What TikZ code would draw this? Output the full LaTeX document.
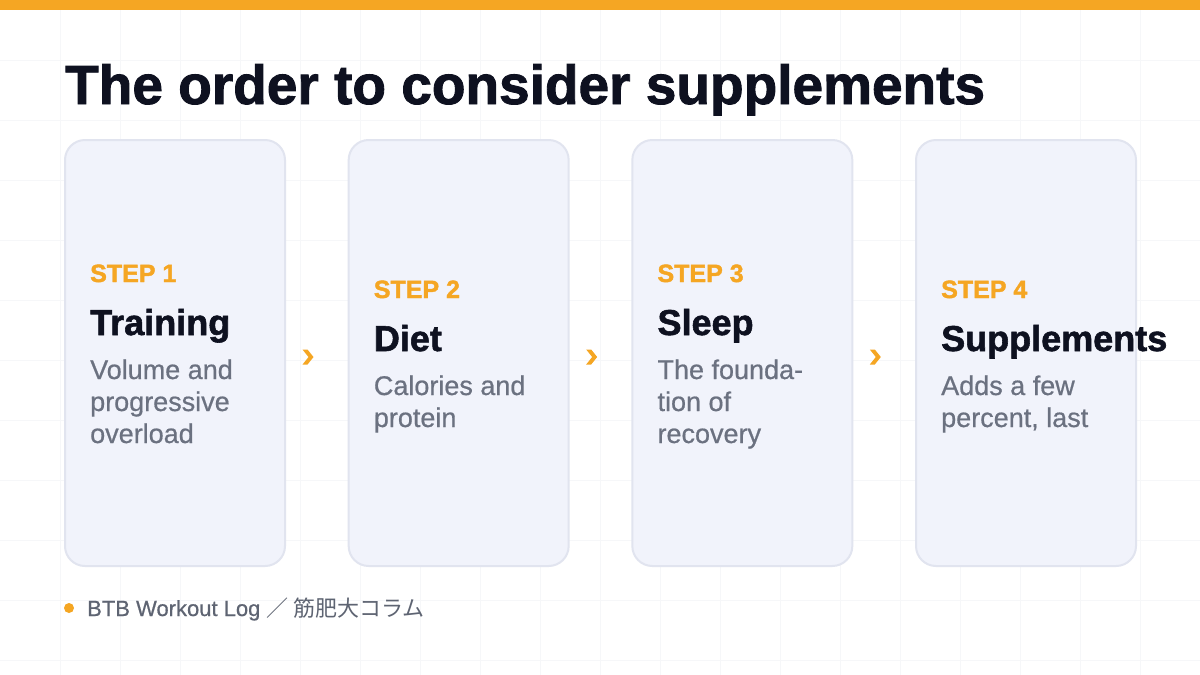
\documentclass[tikz,border=0pt]{standalone}
\usepackage{fontspec}
\setmainfont{Liberation Sans}
\newfontfamily\heavyfont{Liberation Sans}[BoldFeatures={FakeBold=1.6}]
\newfontfamily\mediumfont{Liberation Sans}[FakeBold=0.6]
\newfontfamily\jpfont{Noto Sans CJK JP}
\usetikzlibrary{calc}
\definecolor{barorange}{HTML}{F5A623}
\definecolor{titleink}{HTML}{0E1120}
\definecolor{bodygray}{HTML}{6B7180}
\definecolor{cardfill}{HTML}{F1F3FB}
\definecolor{cardline}{HTML}{E1E4EF}
\definecolor{gridline}{HTML}{F6F7F9}
\definecolor{footgray}{HTML}{5E6472}
\tikzset{
	card/.style={draw=cardline, line width=2pt, fill=cardfill, rounded corners=20pt, minimum width=220pt, minimum height=426pt, inner sep=0pt},
	steplabel/.style={anchor=base west, inner sep=0pt, text=barorange, font=\fontsize{25}{30}\selectfont\heavyfont\bfseries},
	stephead/.style={anchor=base west, inner sep=0pt, text=titleink, font=\fontsize{36}{40}\selectfont\heavyfont\bfseries},
	stepbody/.style={anchor=base west, inner sep=0pt, text=bodygray, align=left, font=\fontsize{27}{32}\selectfont\mediumfont},
	chevron/.style={fill=barorange},
}
\begin{document}
\begin{tikzpicture}[x=1pt, y=-1pt]
	\useasboundingbox (0,0) rectangle (1200,675);
	\fill[white] (0,0) rectangle (1200,675);
	\foreach \gx in {60,120,...,1140} \draw[gridline, line width=1pt] (\gx,0) -- (\gx,675);
	\foreach \gy in {60,120,...,660} \draw[gridline, line width=1pt] (0,\gy) -- (1200,\gy);
	\fill[barorange] (0,0) rectangle (1200,10);

	\node (title) [anchor=base west, inner sep=0pt, text=titleink, font=\fontsize{55}{60}\selectfont\heavyfont\bfseries] at (65,104) {The order to consider supplements};

	\node (card1) [card] at (175,353) {};
	\node (card2) [card] at (458.67,353) {};
	\node (card3) [card] at (742.33,353) {};
	\node (card4) [card] at (1026,353) {};

	\node (step1) [steplabel] at (90,282) {STEP 1};
	\node (head1) [stephead] at (90,335) {Training};
	\node (body1) [stepbody] at (90,443) {Volume and\\progressive\\overload};

	\node (step2) [steplabel] at (373.67,298) {STEP 2};
	\node (head2) [stephead] at (373.67,351) {Diet};
	\node (body2) [stepbody] at (373.67,427) {Calories and\\protein};

	\node (step3) [steplabel] at (657.33,282) {STEP 3};
	\node (head3) [stephead] at (657.33,335) {Sleep};
	\node (body3) [stepbody] at (657.33,443) {The founda-\\tion of\\recovery};

	\node (step4) [steplabel] at (941,298) {STEP 4};
	\node (head4) [stephead] at (941,351) {Supplements};
	\node (body4) [stepbody] at (941,427) {Adds a few\\percent, last};

	\node (chev1) at ($(card1.east)+(22,4)$) {};
	\node (chev2) at ($(card2.east)+(22,4)$) {};
	\node (chev3) at ($(card3.east)+(22,4)$) {};
	\fill[chevron] ($(chev1)+(-5.5,-7.5)$) -- ++(5,0) -- ++(6,7.5) -- ++(-6,7.5) -- ++(-5,0) -- ++(6,-7.5) -- cycle;
	\fill[chevron] ($(chev2)+(-5.5,-7.5)$) -- ++(5,0) -- ++(6,7.5) -- ++(-6,7.5) -- ++(-5,0) -- ++(6,-7.5) -- cycle;
	\fill[chevron] ($(chev3)+(-5.5,-7.5)$) -- ++(5,0) -- ++(6,7.5) -- ++(-6,7.5) -- ++(-5,0) -- ++(6,-7.5) -- cycle;

	\node (dot) [circle, fill=barorange, minimum size=10pt, inner sep=0pt] at (69,608) {};
	\node (foot) [anchor=base west, inner sep=0pt, text=footgray, font=\fontsize{22}{26}\selectfont\mediumfont] at (87,616) {BTB Workout Log {\jpfont ／ 筋肥大コラム}};
\end{tikzpicture}
\end{document}
